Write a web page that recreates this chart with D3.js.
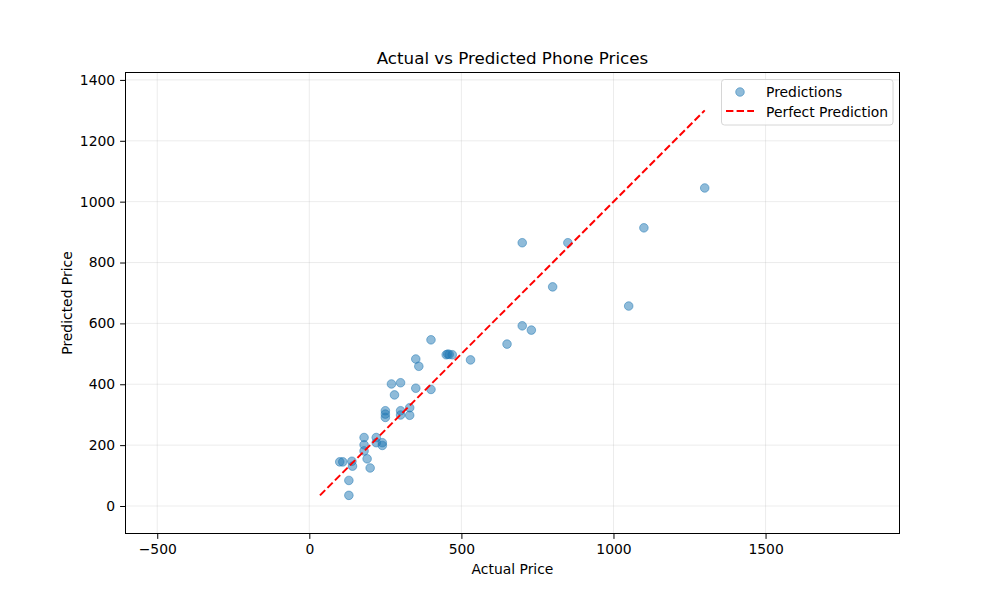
<!DOCTYPE html>
<html>
<head>
<meta charset="utf-8">
<script src="https://cdn.jsdelivr.net/npm/d3@7/dist/d3.min.js"></script>
<style>
  html, body { margin: 0; padding: 0; background: #fff; }
  text { font-family: "DejaVu Sans", sans-serif; fill: #000; }
</style>
</head>
<body>
<svg id="chart" width="1000" height="600"></svg>
<script>
// ---- data ----
const actualPrice = [400, 450, 455, 460, 470, 530, 350, 360, 270, 300, 350, 400, 280,
  250, 250, 250, 300, 300, 330, 330, 180, 220, 180, 220, 240, 240, 180, 190, 100, 110,
  140, 142, 200, 130, 130, 650, 700, 730, 800, 700, 850, 1050, 1100, 1300];
const predictedPrice = [546, 497, 499, 498, 497, 480, 483, 459, 401, 405, 387, 383, 365,
  313, 302, 291, 313, 299, 323, 298, 225, 225, 201, 208, 208, 199, 181, 155, 145, 145,
  147, 131, 125, 84, 35, 532, 592, 578, 720, 865, 865, 657, 914, 1045];
const perfectLine = [35, 1300];
const xTicks = [-500, 0, 500, 1000, 1500];
const yTicks = [0, 200, 400, 600, 800, 1000, 1200, 1400];
const titleText = "Actual vs Predicted Phone Prices";
const xLabel = "Actual Price";
const yLabel = "Predicted Price";
const legendLabels = ["Predictions", "Perfect Prediction"];

// ---- layout ----
const svg = d3.select("#chart");
const L = 125, R = 900, T = 72, B = 534;
const x = d3.scaleLinear().domain([-606, 1942]).range([L, R]);
const y = d3.scaleLinear().domain([-92, 1426]).range([B, T]);
const blue = "#1f77b4";

// grid
const grid = svg.append("g");
grid.selectAll("line.vx").data(xTicks).enter().append("line")
  .attr("x1", d => x(d)).attr("x2", d => x(d)).attr("y1", T).attr("y2", B)
  .attr("stroke", "#b0b0b0").attr("stroke-opacity", 0.3).attr("stroke-width", 0.8);
grid.selectAll("line.hy").data(yTicks).enter().append("line")
  .attr("x1", L).attr("x2", R).attr("y1", d => y(d)).attr("y2", d => y(d))
  .attr("stroke", "#b0b0b0").attr("stroke-opacity", 0.3).attr("stroke-width", 0.8);

// points
svg.append("g").selectAll("circle").data(actualPrice).enter().append("circle")
  .attr("cx", d => x(d)).attr("cy", (d, i) => y(predictedPrice[i]))
  .attr("r", 4.3).attr("fill", blue).attr("fill-opacity", 0.5)
  .attr("stroke", blue).attr("stroke-opacity", 0.5).attr("stroke-width", 1);

// perfect line
svg.append("line")
  .attr("x1", x(perfectLine[0])).attr("y1", y(perfectLine[0]))
  .attr("x2", x(perfectLine[1])).attr("y2", y(perfectLine[1]))
  .attr("stroke", "red").attr("stroke-width", 2).attr("stroke-dasharray", "7.4,3.2");

// axes
const fmt = d => d < 0 ? "\u2212" + Math.abs(d) : String(d);
const xAxis = svg.append("g").attr("transform", `translate(0,${B})`)
  .call(d3.axisBottom(x).tickValues(xTicks).tickFormat(fmt).tickSize(4.9).tickPadding(4.9));
const yAxis = svg.append("g").attr("transform", `translate(${L},0)`)
  .call(d3.axisLeft(y).tickValues(yTicks).tickFormat(fmt).tickSize(4.9).tickPadding(4.9));
[xAxis, yAxis].forEach(a => {
  a.select(".domain").remove();
  a.selectAll("text").attr("font-size", "13.9px").attr("font-family", "DejaVu Sans").attr("fill", "#000");
  a.selectAll("line").attr("stroke", "#000").attr("stroke-width", 1);
});
svg.append("rect").attr("x", L + 0.5).attr("y", T + 0.5).attr("width", R - L - 1).attr("height", B - T - 1)
  .attr("fill", "none").attr("stroke", "#000").attr("stroke-width", 1.1)
  .attr("shape-rendering", "crispEdges");

// titles
svg.append("text").attr("x", (L + R) / 2).attr("y", 64).attr("text-anchor", "middle")
  .attr("font-size", "16.7px").text(titleText);
svg.append("text").attr("x", (L + R) / 2).attr("y", 574).attr("text-anchor", "middle")
  .attr("font-size", "13.9px").text(xLabel);
svg.append("text").attr("transform", "translate(72,303) rotate(-90)").attr("text-anchor", "middle")
  .attr("font-size", "13.9px").text(yLabel);

// legend
const lg = svg.append("g");
lg.append("rect").attr("x", 721.5).attr("y", 79.5).attr("width", 171.5).attr("height", 45.5)
  .attr("rx", 3).attr("fill", "#fff").attr("fill-opacity", 0.8)
  .attr("stroke", "#cccccc").attr("stroke-width", 0.8);
lg.append("circle").attr("cx", 740).attr("cy", 92).attr("r", 4.3)
  .attr("fill", blue).attr("fill-opacity", 0.5).attr("stroke", blue).attr("stroke-opacity", 0.5);
lg.append("line").attr("x1", 726).attr("x2", 754).attr("y1", 111).attr("y2", 111)
  .attr("stroke", "red").attr("stroke-width", 2).attr("stroke-dasharray", "7.4,3.2");
lg.selectAll("text.lt").data(legendLabels).enter().append("text")
  .attr("x", 766).attr("y", (d, i) => 97 + i * 19.5)
  .attr("font-size", "13.9px").text(d => d);
</script>
</body>
</html>
